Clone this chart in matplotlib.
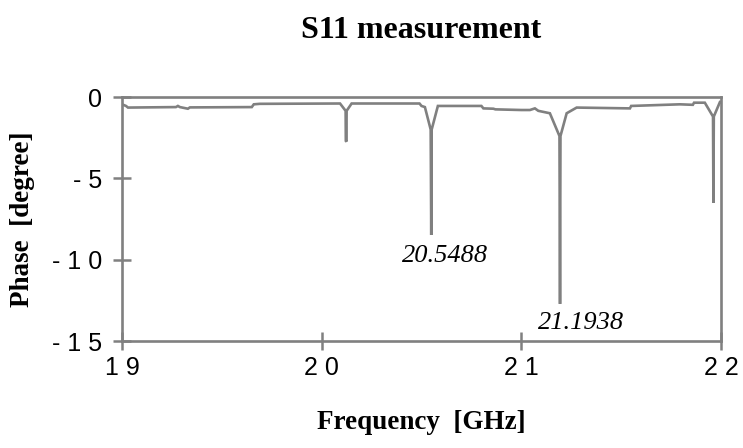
import matplotlib
matplotlib.use("Agg")
import matplotlib.pyplot as plt

# Frequency [GHz] and phase [degree]
freq = [19.000, 19.020, 19.030, 19.270, 19.280, 19.290, 19.330, 19.340,
         19.650, 19.660, 19.690,
         20.092, 20.120, 20.121, 20.124, 20.125, 20.150,
         20.490, 20.500, 20.517, 20.546, 20.5488, 20.551, 20.582,
         20.800, 20.810, 20.860, 20.870, 21.000, 21.043, 21.068, 21.085,
         21.143, 21.191, 21.1938, 21.196, 21.227, 21.277,
         21.544, 21.550, 21.794, 21.859, 21.865, 21.919,
         21.960, 21.962, 21.964, 21.995, 22.000]
phase = [-0.45, -0.55, -0.65, -0.62, -0.55, -0.62, -0.72, -0.64,
         -0.62, -0.45, -0.42,
         -0.40, -0.85, -2.70, -2.75, -0.85, -0.40,
         -0.40, -0.55, -0.62, -2.00, -8.48, -2.00, -0.55,
         -0.55, -0.70, -0.72, -0.76, -0.80, -0.80, -0.70, -0.85,
         -1.00, -2.40, -12.72, -2.40, -1.00, -0.65,
         -0.70, -0.55, -0.45, -0.48, -0.35, -0.35,
         -1.20, -6.50, -1.20, -0.30, -0.30]

peak_labels = ["20.5488", "21.1938"]
peak_label_pos = [(20.617, -9.77), (21.298, -13.9)]

x_ticks = [19, 20, 21, 22]
x_ticklabels = ["1 9", "2 0", "2 1", "2 2"]
y_ticks = [0, -5, -10, -15]
y_ticklabels = ["0", "- 5", "- 1 0", "- 1 5"]

gray = "#808080"

fig = plt.figure(figsize=(7.43, 4.48), dpi=100)
ax = fig.add_axes([122/743, 1 - 341/448, (721 - 122)/743, (341 - 97)/448])

ax.plot(freq, phase, color=gray, lw=1.9, solid_joinstyle="miter")

ax.set_xlim(19, 22)
ax.set_ylim(-15, 0)
ax.set_xticks(x_ticks)
ax.set_xticklabels(x_ticklabels, fontfamily="Liberation Sans", fontsize=18)
ax.set_yticks(y_ticks)
ax.set_yticklabels(y_ticklabels, fontfamily="Liberation Sans", fontsize=18)
ax.tick_params(axis="x", direction="inout", length=13, width=1.8, color=gray, pad=4)
ax.tick_params(axis="y", direction="inout", length=12.5, width=1.8, color=gray, pad=8)

for s in ax.spines.values():
    s.set_color(gray)
    s.set_linewidth(1.9)

for lab, (x, y) in zip(peak_labels, peak_label_pos):
    ax.text(x, y, lab, ha="center", va="center", fontfamily="Liberation Serif",
            style="italic", fontsize=19)

ax.set_xlabel("Frequency  [GHz]", fontfamily="Liberation Serif", fontweight="bold",
              fontsize=19.5, labelpad=22)
ax.set_ylabel("Phase  [degree]", fontfamily="Liberation Serif", fontweight="bold",
              fontsize=19.5, labelpad=12)
fig.text(421/743, 1 - 30/448, "S11 measurement", ha="center", va="center",
         fontfamily="Liberation Serif", fontweight="bold", fontsize=23)

fig.savefig("out.png", dpi=100)
